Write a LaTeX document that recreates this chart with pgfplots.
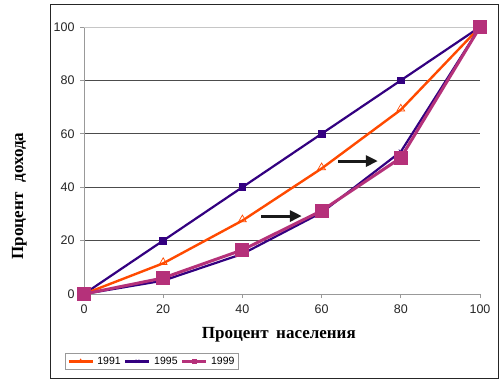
\documentclass[border=0pt]{standalone}
\usepackage{fontspec}
\setmainfont{Liberation Sans}
\newfontfamily\serifb{Liberation Serif}
\usepackage{pgfplots}
\pgfplotsset{compat=1.18}
\usetikzlibrary{arrows.meta}
\definecolor{c91}{RGB}{255,74,0}
\definecolor{c95}{RGB}{51,0,128}
\definecolor{c99}{RGB}{181,49,122}
\begin{document}
\begin{tikzpicture}[x=1pt,y=1pt]
\fill[white] (0,0) rectangle (503,389);
\draw[black!85, line width=1pt] (50,11) rectangle (498,384);
\begin{axis}[
  at={(84pt,95pt)}, anchor=south west,
  scale only axis, width=396pt, height=267pt,
  xmin=0, xmax=100, ymin=0, ymax=100,
  clip=false,
  axis x line=bottom, axis y line=left,
  axis line style={gray!80, line width=0.9pt, -},
  xtick={0,20,...,100}, ytick={0,20,...,100},
  tick align=outside, major tick length=4pt,
  tick style={gray!80, line width=0.8pt},
  ymajorgrids, grid style={black!70, line width=0.7pt},
  /pgf/number format/assume math mode=true,
  ticklabel style={font=\fontsize{12.5}{14}\selectfont, text=black!85},
  xticklabel style={yshift=-3pt},
  yticklabel style={xshift=-2pt},
  xlabel={Процент\hspace{0.45em}населения},
  ylabel={Процент\hspace{0.6em}дохода},
  label style={font=\serifb\bfseries\fontsize{17}{19}\selectfont},
  xlabel style={at={(axis description cs:0.492,-0.154)}, anchor=center},
  ylabel style={at={(axis description cs:-0.163,0.367)}, anchor=center},
  legend columns=3,
  legend style={at={(axis description cs:-0.048,-0.283)}, anchor=south west,
    draw=gray!80, line width=0.8pt, font=\fontsize{10.5}{12}\selectfont,
    inner sep=1.5pt, column sep=1pt},
  legend image code/.code={\draw[mark repeat=2,mark phase=2,#1,line width=3.5pt,mark size=2.3pt,mark options={line width=0.6pt}] plot coordinates {(0pt,0pt)(12pt,0pt)(24pt,0pt)};},
]
\draw[gray!45, line width=1pt] (axis cs:0,100) -- (axis cs:100,100);
\addplot[c95, line width=2.2pt, mark=square*, mark size=2.8pt, forget plot] coordinates {(0,0) (20,20) (40,40) (60,60) (80,80) (100,100)};
\addplot[c91, line width=2.4pt, mark=triangle, mark size=4.5pt, mark options={line width=0.7pt, yshift=1pt}] coordinates {(0,0) (20,11.5) (40,27.5) (60,47) (80,69) (100,100)};
\addlegendentry{1991}
\addplot[c95, line width=2.2pt, mark=x, mark size=3pt, mark options={line width=0.6pt}] coordinates {(0,0) (20,5) (40,15) (60,30.5) (80,53.3) (100,100)};
\addlegendentry{1995}
\addplot[c99, line width=3pt, mark=square*, mark size=5.5pt] coordinates {(0,0) (20,6) (40,16.5) (60,31.2) (80,51) (100,100)};
\addlegendentry{1999}
\draw[black!90, line width=3pt, -{Triangle[length=12pt,width=11pt]}] (axis cs:44.7,29.2) -- (axis cs:55,29.2);
\draw[black!90, line width=3pt, -{Triangle[length=12pt,width=11pt]}] (axis cs:64.1,49.8) -- (axis cs:74.2,49.8);
\end{axis}
\end{tikzpicture}
\end{document}
